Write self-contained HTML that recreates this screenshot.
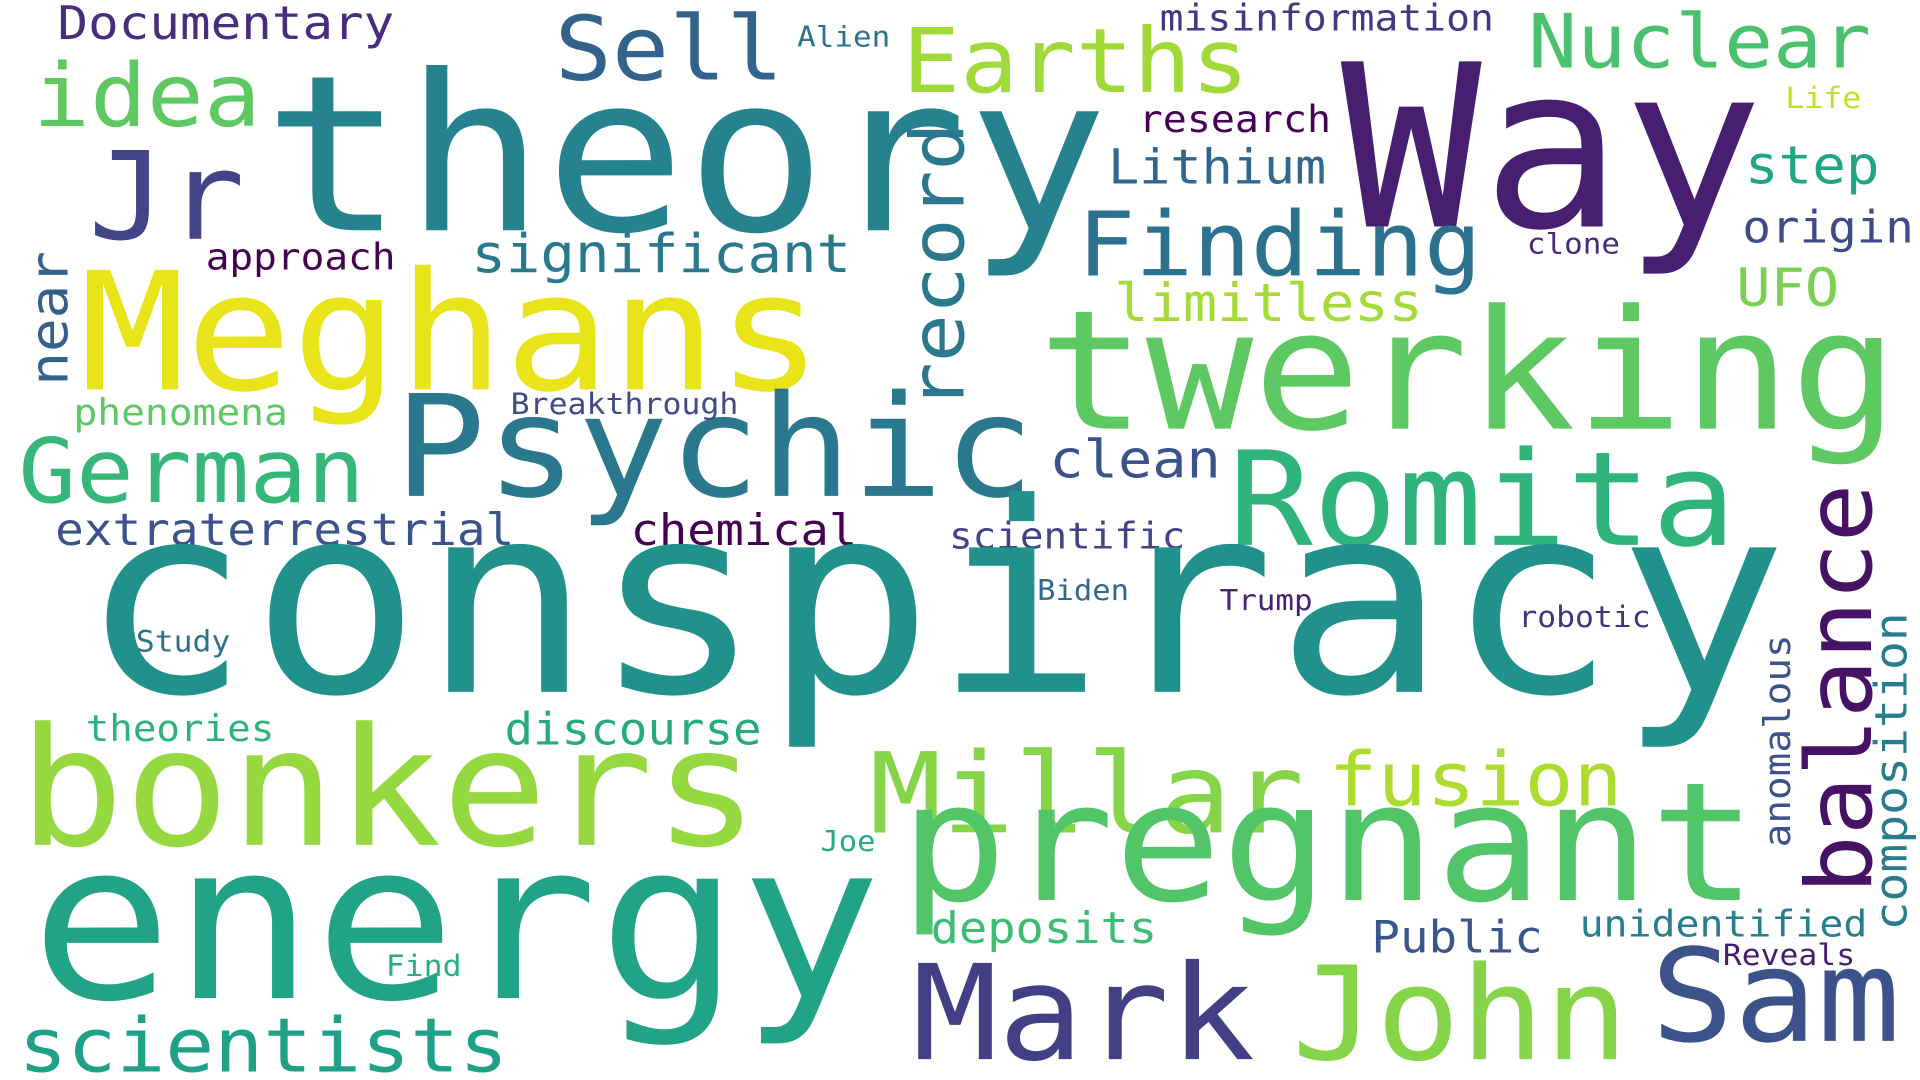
<!DOCTYPE html>
<html>
<head>
<meta charset="utf-8">
<style>
html,body{margin:0;padding:0;background:#fff;}
svg{display:block;}
text{font-family:"DejaVu Sans Mono","Liberation Mono",monospace;}
</style>
</head>
<body>
<svg id="cloud" width="1920" height="1080" viewBox="0 0 1568 882" xmlns="http://www.w3.org/2000/svg">
<rect width="1568" height="882" fill="#ffffff"/>
</svg>
<script>
const words = ["Documentary","theory","Way","Sell","Earths","Nuclear","misinformation","Alien","idea","Jr","research","Life","Lithium","step","record","Finding","origin","clone","approach","significant","near","Meghans","limitless","UFO","twerking","Psychic","phenomena","Breakthrough","German","clean","Romita","balance","extraterrestrial","chemical","scientific","conspiracy","Biden","Trump","robotic","Study","anomalous","composition","theories","discourse","bonkers","Millar","fusion","pregnant","Joe","energy","deposits","Public","unidentified","Reveals","Sam","Find","Mark","John","scientists"];
const weights = [41,191,199,78,78,66,32,25,77,107,33,26,42,46,65,78,39,25,32,47,46,144,46,46,146,124,32,26,78,46,115,80,39,38,32,232,25,25,26,26,32,39,32,39,144,98,66,145,25,192,38,39,32,26,113,26,116,114,66];
const colors = ["#472d7b","#26828e","#481f70","#33638d","#a0da39","#4ac16d","#453781","#2c728e","#5ec962","#414487","#440154","#c2df23","#31668e","#21a685","#2a788e","#2c728e","#3e4a89","#482878","#440154","#2a788e","#355f8d","#e8e419","#a5db36","#7ad151","#5ec962","#2a788e","#5ec962","#3e4a89","#35b779","#3b528b","#2fb47c","#471164","#3b528b","#440154","#414487","#21918c","#31688e","#482173","#46337e","#2d708e","#3b528b","#287c8e","#2db27d","#25ab82","#95d840","#86d549","#addc30","#52c569","#27ad81","#20a386","#3fbc73","#39568c","#287d8e","#481b6d","#3b528b","#2ab07f","#423f85","#86d549","#1fa187"];
const vertical = [0,0,0,0,0,0,0,0,0,0,0,0,0,0,1,0,0,0,0,0,1,0,0,0,0,0,0,0,0,0,0,1,0,0,0,0,0,0,0,0,1,1,0,0,0,0,0,0,0,0,0,0,0,0,0,0,0,0,0];
const posX = [47,215,1095,453,737,1248,947,651,27,72,930,1458,905,1425,787,880,1423,1247,168,385,55,65,910,1418,848,322,60,417,15,857,1003,1528,45,515,775,65,847,996,1240,111,1462,1557,70,412,15,710,1085,735,670,25,760,1120,1290,1407,1348,315,745,1055,15];
const posY = [32,188,185,65,75,55,25,38,103,195,108,88,150,150,335,225,198,207,220,222,315,318,262,250,350,405,347,338,410,390,445,730,445,445,448,565,490,498,512,532,692,760,605,608,690,680,658,735,695,815,770,778,765,788,850,797,865,865,875];
const spans = [275,690,345,187,283,280,273,76,186,128,157,62,178,110,235,330,140,76,155,310,110,607,252,84,702,523,175,186,283,140,415,335,375,185,193,1395,75,76,108,77,174,260,154,210,605,355,240,700,45,695,185,140,235,108,204,62,280,275,400];
const sizeFactor = 0.93;

const svg = document.getElementById('cloud');
for (let i = 0; i < words.length; i++) {
  const t = document.createElementNS('http://www.w3.org/2000/svg', 'text');
  t.textContent = words[i];
  t.setAttribute('font-size', weights[i] * sizeFactor);
  t.setAttribute('fill', colors[i]);
  t.setAttribute('textLength', spans[i]);
  t.setAttribute('lengthAdjust', 'spacingAndGlyphs');
  if (vertical[i]) {
    t.setAttribute('transform', 'translate(' + posX[i] + ',' + posY[i] + ') rotate(-90)');
    t.setAttribute('x', 0);
    t.setAttribute('y', 0);
  } else {
    t.setAttribute('x', posX[i]);
    t.setAttribute('y', posY[i]);
  }
  
  
  svg.appendChild(t);
}
</script>
</body>
</html>
